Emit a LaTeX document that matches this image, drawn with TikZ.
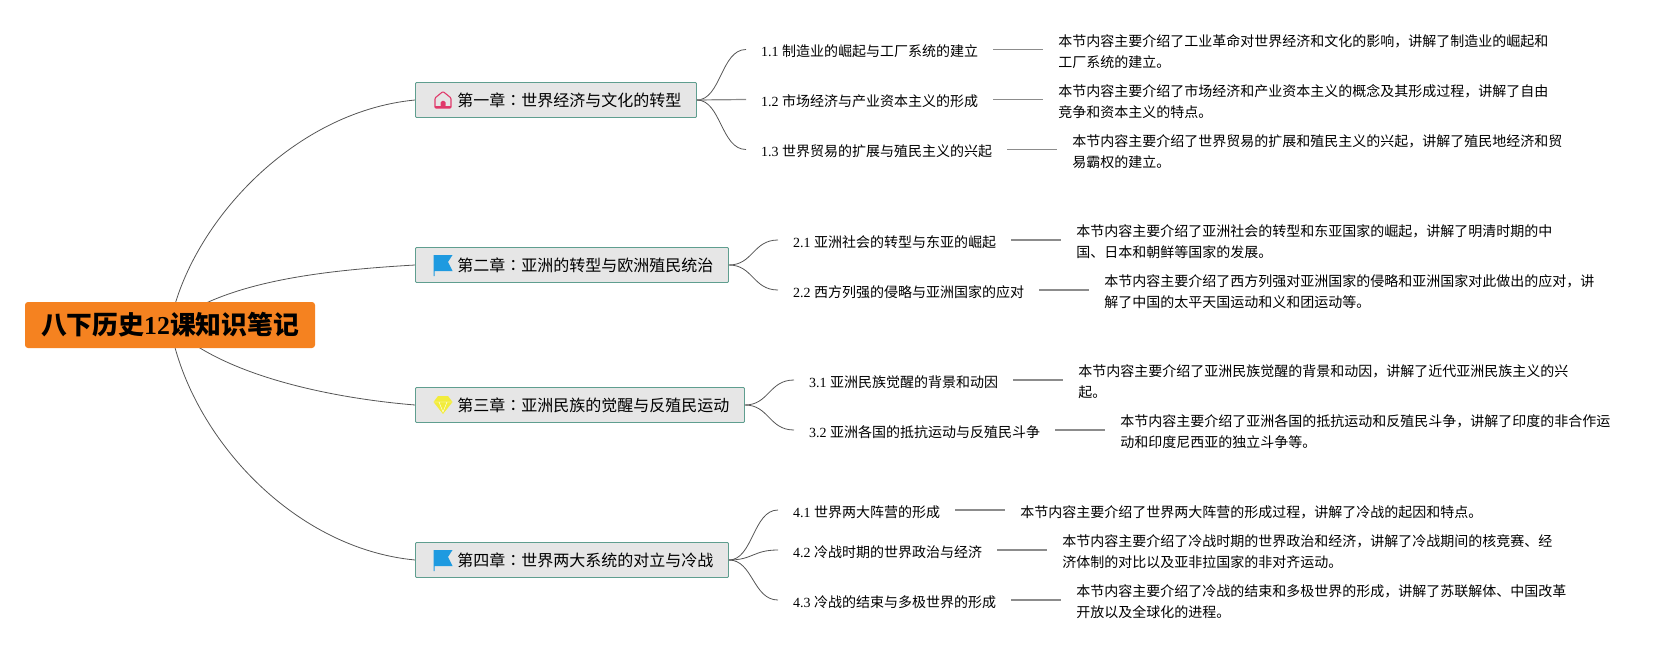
\documentclass[tikz,border=0pt]{standalone}
\usepackage{fontspec}
\setmainfont{Liberation Serif}
\newfontfamily\cjk{Noto Sans CJK SC}
\newfontfamily\cjktc{Noto Sans CJK TC}
\usepackage{xcolor}
\usetikzlibrary{positioning, calc, backgrounds}
\definecolor{mmorange}{HTML}{F58220}
\definecolor{mmgrey}{HTML}{E6E6E6}
\definecolor{mmteal}{HTML}{5F9E8F}
\definecolor{mmline}{HTML}{555555}
\definecolor{mmrule}{HTML}{8C8C8C}
\definecolor{mmpink}{HTML}{E0396A}
\definecolor{mmblue}{HTML}{1E9AE0}
\definecolor{mmyellow}{HTML}{F2EC3C}
\newcommand{\mmcolon}{{\cjktc ：}}
\tikzset{
  iconhouse/.pic={
    \draw[mmpink, line width=1.1pt, line join=round, rounded corners=1pt] (-8,8) -- (-8,-2) -- (0,-8.5) -- (8,-2) -- (8,8) -- cycle;
    \fill[mmpink] (-8,8.5) rectangle (8,6.5);
    \fill[mmpink, rounded corners=1.5pt] (-2.5,7) -- (-2.5,1) -- (2.5,1) -- (2.5,7) -- cycle;
  },
  iconflag/.pic={
    \fill[mmblue] (-9.5,-10) -- (9.5,-10) -- (5,-3) -- (9.5,6) -- (-8.5,6) -- (-8.5,11) -- (-9.5,11) -- cycle;
  },
  icongem/.pic={
    \fill[mmyellow] (-5,-9) -- (5,-9) -- (9.5,-3) -- (0,9) -- (-9.5,-3) -- cycle;
    \draw[white, line width=0.4pt] (-9,-3) -- (9,-3) (-4,-3) -- (0,7) -- (4,-3);
  }
}
\begin{document}
\begin{tikzpicture}[x=1pt, y=-1pt,
    rootbox/.style={fill=mmorange, rounded corners=3pt, text=black, minimum width=290pt, minimum height=46pt, inner sep=0pt, font=\fontsize{25.8}{30}\selectfont\bfseries},
    chap/.style={draw=mmteal, fill=mmgrey, line width=0.9pt, rounded corners=1pt, anchor=west, text=black, minimum height=35pt, inner xsep=15pt, inner ysep=0pt, font=\fontsize{16}{20}\selectfont\cjk},
    sect/.style={anchor=west, inner xsep=15pt, inner ysep=0pt, text height=14pt, text depth=0pt, font=\fontsize{14}{21}\selectfont},
    desc/.style={inner xsep=14.7pt, inner ysep=0pt, yshift=-2pt, align=left, font=\fontsize{14}{21}\selectfont\cjk},
    link/.style={draw=mmline, line width=0.8pt},
    rule/.style={draw=mmrule, line width=1.2pt}]
  \useasboundingbox (0,0) rectangle (1680,650);

  \node[rootbox] (root) at (170,325) {{\cjk 八下历史}12{\cjk 课知识笔记}};

  \node[chap] (c1) at (415,100) {\hspace*{27pt}第一章\mmcolon 世界经济与文化的转型};
  \node[chap] (c2) at (415,265) {\hspace*{27pt}第二章\mmcolon 亚洲的转型与欧洲殖民统治};
  \node[chap] (c3) at (415,405) {\hspace*{27pt}第三章\mmcolon 亚洲民族的觉醒与反殖民运动};
  \node[chap] (c4) at (415,560) {\hspace*{27pt}第四章\mmcolon 世界两大系统的对立与冷战};

  \pic at ($(c1.west)+(28,0)$) {iconhouse};
  \pic at ($(c2.west)+(28,0)$) {iconflag};
  \pic at ($(c3.west)+(28,0)$) {icongem};
  \pic at ($(c4.west)+(28,0)$) {iconflag};

  \node[sect] (s11) at (746,49.5) {1.1 {\cjk 制造业的崛起与工厂系统的建立}};
  \node[sect] (s12) at (746,99.5) {1.2 {\cjk 市场经济与产业资本主义的形成}};
  \node[sect] (s13) at (746,149.5) {1.3 {\cjk 世界贸易的扩展与殖民主义的兴起}};
  \node[sect] (s21) at (778,240) {2.1 {\cjk 亚洲社会的转型与东亚的崛起}};
  \node[sect] (s22) at (778,290) {2.2 {\cjk 西方列强的侵略与亚洲国家的应对}};
  \node[sect] (s31) at (794,380) {3.1 {\cjk 亚洲民族觉醒的背景和动因}};
  \node[sect] (s32) at (794,430) {3.2 {\cjk 亚洲各国的抵抗运动与反殖民斗争}};
  \node[sect] (s41) at (778,510) {4.1 {\cjk 世界两大阵营的形成}};
  \node[sect] (s42) at (778,550) {4.2 {\cjk 冷战时期的世界政治与经济}};
  \node[sect] (s43) at (778,600) {4.3 {\cjk 冷战的结束与多极世界的形成}};

  \node[desc, right=50pt of s11] (d11) {本节内容主要介绍了工业革命对世界经济和文化的影响，讲解了制造业的崛起和\\工厂系统的建立。};
  \node[desc, right=50pt of s12] (d12) {本节内容主要介绍了市场经济和产业资本主义的概念及其形成过程，讲解了自由\\竞争和资本主义的特点。};
  \node[desc, right=50pt of s13] (d13) {本节内容主要介绍了世界贸易的扩展和殖民主义的兴起，讲解了殖民地经济和贸\\易霸权的建立。};
  \node[desc, right=50pt of s21] (d21) {本节内容主要介绍了亚洲社会的转型和东亚国家的崛起，讲解了明清时期的中\\国、日本和朝鲜等国家的发展。};
  \node[desc, right=50pt of s22] (d22) {本节内容主要介绍了西方列强对亚洲国家的侵略和亚洲国家对此做出的应对，讲\\解了中国的太平天国运动和义和团运动等。};
  \node[desc, right=50pt of s31] (d31) {本节内容主要介绍了亚洲民族觉醒的背景和动因，讲解了近代亚洲民族主义的兴\\起。};
  \node[desc, right=50pt of s32] (d32) {本节内容主要介绍了亚洲各国的抵抗运动和反殖民斗争，讲解了印度的非合作运\\动和印度尼西亚的独立斗争等。};
  \node[desc, right=50pt of s41] (d41) {本节内容主要介绍了世界两大阵营的形成过程，讲解了冷战的起因和特点。};
  \node[desc, right=50pt of s42] (d42) {本节内容主要介绍了冷战时期的世界政治和经济，讲解了冷战期间的核竞赛、经\\济体制的对比以及亚非拉国家的非对齐运动。};
  \node[desc, right=50pt of s43] (d43) {本节内容主要介绍了冷战的结束和多极世界的形成，讲解了苏联解体、中国改革\\开放以及全球化的进程。};

  \begin{scope}[on background layer]
    \draw[link] (root.center) .. controls (188,228) and (290,112) .. (c1.west);
    \draw[link] (root.center) .. controls (225,280) and (330,270) .. (c2.west);
    \draw[link] (root.center) .. controls (220,375) and (330,398) .. (c3.west);
    \draw[link] (root.center) .. controls (188,432) and (290,548) .. (c4.west);
  \end{scope}

  \draw[link] (c1.east) .. controls (721,100) and (721,49.5) .. (s11.west);
  \draw[rule] (c1.east) -- (s12.west);
  \draw[link] (c1.east) .. controls (721,100) and (721,149.5) .. (s13.west);
  \draw[link] (c2.east) .. controls (753,265) and (753,240) .. (s21.west);
  \draw[link] (c2.east) .. controls (753,265) and (753,290) .. (s22.west);
  \draw[link] (c3.east) .. controls (769,405) and (769,380) .. (s31.west);
  \draw[link] (c3.east) .. controls (769,405) and (769,430) .. (s32.west);
  \draw[link] (c4.east) .. controls (753,560) and (753,510) .. (s41.west);
  \draw[link] (c4.east) .. controls (753,560) and (753,550) .. (s42.west);
  \draw[link] (c4.east) .. controls (753,560) and (753,600) .. (s43.west);

  \draw[rule] (s11) -- (s11 -| d11.west);
  \draw[rule] (s12) -- (s12 -| d12.west);
  \draw[rule] (s13) -- (s13 -| d13.west);
  \draw[rule] (s21) -- (s21 -| d21.west);
  \draw[rule] (s22) -- (s22 -| d22.west);
  \draw[rule] (s31) -- (s31 -| d31.west);
  \draw[rule] (s32) -- (s32 -| d32.west);
  \draw[rule] (s41) -- (s41 -| d41.west);
  \draw[rule] (s42) -- (s42 -| d42.west);
  \draw[rule] (s43) -- (s43 -| d43.west);
\end{tikzpicture}
\end{document}
